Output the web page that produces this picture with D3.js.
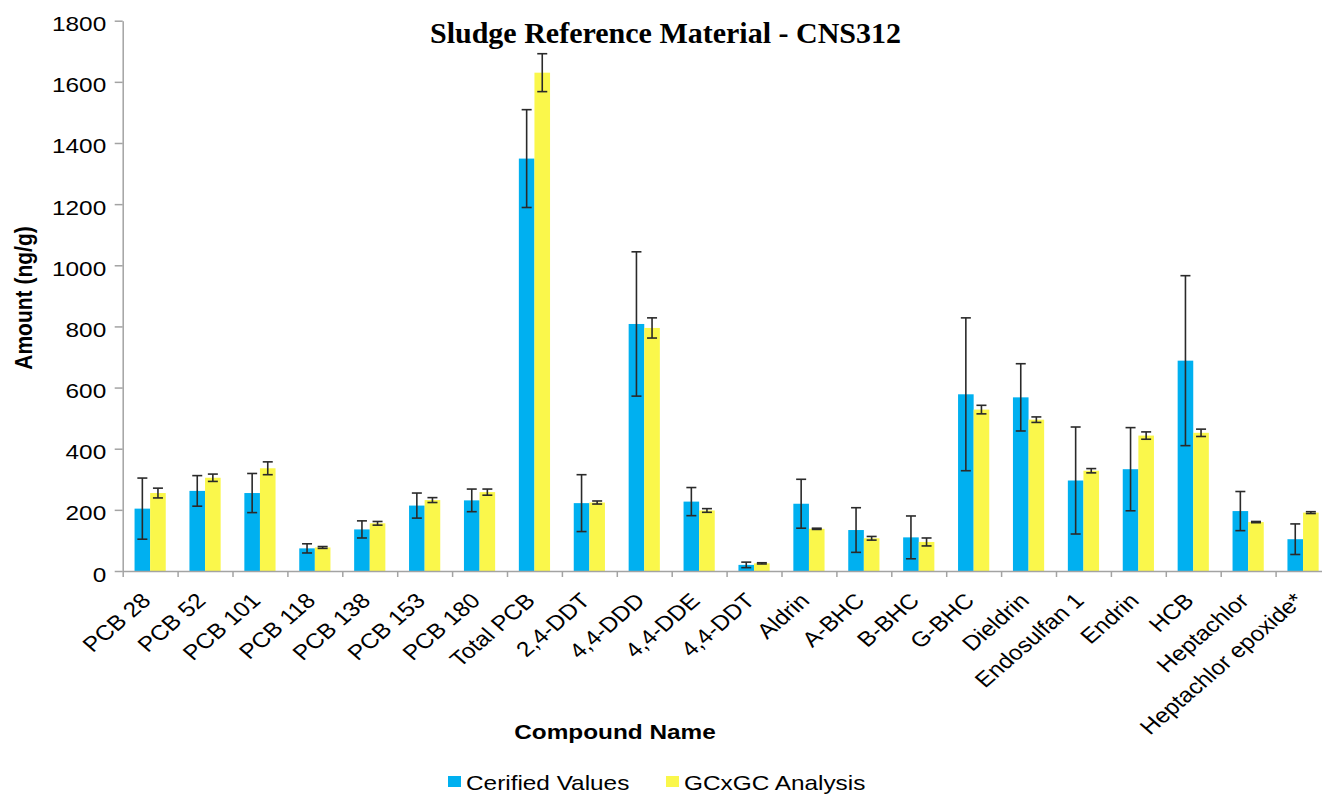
<!DOCTYPE html>
<html>
<head>
<meta charset="utf-8">
<script src="https://cdn.jsdelivr.net/npm/d3@7/dist/d3.min.js"></script>
<style>
  html, body { margin: 0; padding: 0; background: #fff; }
  svg { display: block; }
  text { font-family: "Liberation Sans", Arial, sans-serif; fill: #000; }
</style>
</head>
<body>
<svg id="chart" width="1322" height="795"></svg>
<script>
// Compound names along the x axis
const categories = ["PCB 28", "PCB 52", "PCB 101", "PCB 118", "PCB 138", "PCB 153", "PCB 180",
  "Total PCB", "2,4-DDT", "4,4-DDD", "4,4-DDE", "4,4-DDT", "Aldrin", "A-BHC", "B-BHC", "G-BHC",
  "Dieldrin", "Endosulfan 1", "Endrin", "HCB", "Heptachlor", "Heptachlor epoxide*"];

// Certified values and their uncertainty (ng/g)
const certified = [204, 262, 255, 74, 136, 214, 231, 1349, 222, 808, 227, 20, 220, 134, 110, 578, 568, 296, 333, 688, 196, 104];
const certifiedErr = [100, 50, 64, 15, 28, 41, 37, 160, 93, 236, 46, 9, 80, 73, 70, 250, 110, 175, 136, 278, 64, 50];

// GCxGC measured values and their spread (ng/g)
const gcxgc = [255, 305, 336, 77, 156, 232, 258, 1630, 224, 795, 198, 25, 138, 107, 95, 528, 495, 328, 443, 452, 160, 191];
const gcxgcErr = [16, 12, 21, 3, 6, 8, 10, 62, 5, 33, 6, 2, 2, 6, 13, 14, 9, 7, 12, 12, 2, 3];

const seriesNames = ["Cerified Values", "GCxGC Analysis"];
const seriesColors = ["#00B0F0", "#FAF74B"];
const yTicks = [0, 200, 400, 600, 800, 1000, 1200, 1400, 1600, 1800];

// Layout
const plotLeft = 122.7, plotTop = 20.7, plotBottom = 571;
const catStep = 54.9;
const plotRight = plotLeft + categories.length * catStep;
const textStretch = 1.16;   // horizontal stretch of axis lettering
const fontSize = 21;
const axisColor = "#A3A3A3";

const svg = d3.select("#chart");

const y = d3.scaleLinear().domain([0, 1800]).range([plotBottom, plotTop]);
const x = d3.scaleBand().domain(categories).range([plotLeft, plotRight]).paddingInner(0).paddingOuter(0);
const pairWidth = 31.2;
const xs = d3.scaleBand().domain(seriesNames).range([0, pairWidth]);

const rows = categories.map((c, i) => ({
  cat: c,
  vals: [
    { s: seriesNames[0], v: certified[i], e: certifiedErr[i], color: seriesColors[0] },
    { s: seriesNames[1], v: gcxgc[i], e: gcxgcErr[i], color: seriesColors[1] }
  ]
}));

// Title
svg.append("text")
  .attr("x", 665.5).attr("y", 43)
  .attr("text-anchor", "middle")
  .style("font-family", "'Liberation Serif', 'Times New Roman', serif")
  .style("font-weight", "bold")
  .style("font-size", "30px")
  .text("Sludge Reference Material - CNS312");

// Bars
const groups = svg.append("g").selectAll("g.cat")
  .data(rows).join("g")
  .attr("class", "cat")
  .attr("transform", d => `translate(${x(d.cat) + x.bandwidth() / 2 - pairWidth / 2},0)`);

groups.selectAll("rect")
  .data(d => d.vals).join("rect")
  .attr("x", d => xs(d.s))
  .attr("width", xs.bandwidth())
  .attr("y", d => y(d.v))
  .attr("height", d => y(0) - y(d.v))
  .attr("fill", d => d.color);

// Error bars
const capHalf = 5;
const eb = groups.selectAll("g.err")
  .data(d => d.vals).join("g")
  .attr("class", "err")
  .attr("stroke", "#2a2a2a")
  .attr("stroke-width", 1.6);
eb.append("line")
  .attr("x1", d => xs(d.s) + xs.bandwidth() / 2).attr("x2", d => xs(d.s) + xs.bandwidth() / 2)
  .attr("y1", d => y(d.v + d.e)).attr("y2", d => y(d.v - d.e));
eb.append("line")
  .attr("x1", d => xs(d.s) + xs.bandwidth() / 2 - capHalf).attr("x2", d => xs(d.s) + xs.bandwidth() / 2 + capHalf)
  .attr("y1", d => y(d.v + d.e)).attr("y2", d => y(d.v + d.e));
eb.append("line")
  .attr("x1", d => xs(d.s) + xs.bandwidth() / 2 - capHalf).attr("x2", d => xs(d.s) + xs.bandwidth() / 2 + capHalf)
  .attr("y1", d => y(d.v - d.e)).attr("y2", d => y(d.v - d.e));

// Y axis
const yAxis = svg.append("g")
  .attr("transform", `translate(${plotLeft},0)`)
  .call(d3.axisLeft(y).tickValues(yTicks).tickSize(8).tickSizeOuter(0).tickFormat(d3.format("d")));
yAxis.select(".domain").attr("stroke", axisColor).attr("stroke-width", 1.5);
yAxis.selectAll(".tick line").attr("stroke", axisColor).attr("stroke-width", 1.5);
yAxis.selectAll(".tick text")
  .attr("x", null).attr("dy", null)
  .attr("text-anchor", "end")
  .attr("transform", `translate(-16.5,10) scale(${textStretch},1)`)
  .style("font-family", "'Liberation Sans', Arial, sans-serif")
  .style("font-size", fontSize + "px")
  .attr("fill", "#000");

// X axis: baseline with tick marks between categories
const xBound = d3.scaleLinear().domain([0, categories.length]).range([plotLeft, plotRight]);
const xAxis = svg.append("g")
  .attr("transform", `translate(0,${plotBottom})`)
  .call(d3.axisBottom(xBound).tickValues(d3.range(0, categories.length + 1)).tickSize(6).tickSizeOuter(0).tickFormat(""));
xAxis.select(".domain").attr("stroke", axisColor).attr("stroke-width", 1.5);
xAxis.selectAll(".tick line").attr("stroke", axisColor).attr("stroke-width", 1.5);

// X axis: rotated compound names
const xLabels = svg.append("g")
  .attr("transform", `translate(0,${plotBottom})`)
  .call(d3.axisBottom(x).tickSize(0).tickSizeOuter(0));
xLabels.select(".domain").remove();
xLabels.selectAll(".tick text")
  .attr("y", null).attr("dy", null)
  .attr("text-anchor", "end")
  .attr("transform", `translate(2,31) scale(${textStretch},1) rotate(-45)`)
  .style("font-family", "'Liberation Sans', Arial, sans-serif")
  .style("font-size", fontSize + "px")
  .attr("fill", "#000");

// Axis titles
svg.append("text")
  .attr("transform", `translate(31.5,298) scale(${textStretch},1) rotate(-90)`)
  .attr("text-anchor", "middle")
  .style("font-weight", "bold")
  .style("font-size", fontSize + "px")
  .text("Amount (ng/g)");

svg.append("text")
  .attr("transform", `translate(615,739) scale(${textStretch},1)`)
  .attr("text-anchor", "middle")
  .style("font-weight", "bold")
  .style("font-size", fontSize + "px")
  .text("Compound Name");

// Legend
const legendX = [448, 666];
const legend = svg.append("g").selectAll("g")
  .data(seriesNames).join("g")
  .attr("transform", (d, i) => `translate(${legendX[i]},0)`);
legend.append("rect")
  .attr("x", 0).attr("y", 776).attr("width", 13).attr("height", 11)
  .attr("fill", (d, i) => seriesColors[i]);
legend.append("text")
  .attr("transform", `translate(18,790) scale(${textStretch},1)`)
  .style("font-size", fontSize + "px")
  .text(d => d);
</script>
</body>
</html>
